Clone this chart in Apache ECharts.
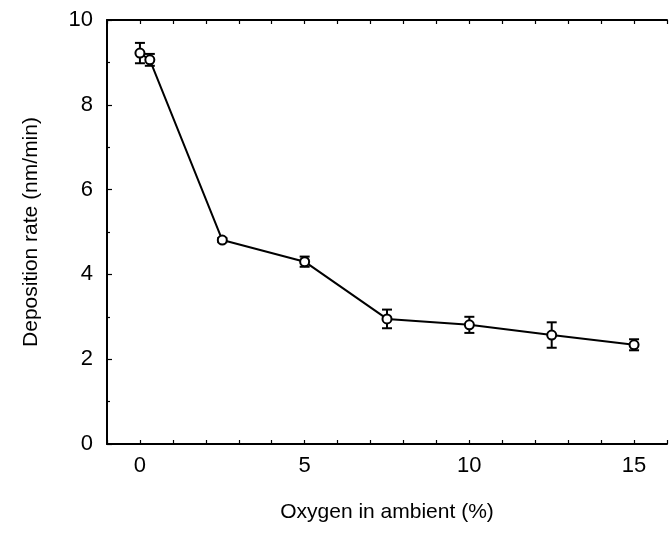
<!DOCTYPE html>
<html>
<head>
<meta charset="utf-8">
<script src="https://cdn.jsdelivr.net/npm/echarts@6/dist/echarts.min.js"></script>
<style>
html,body{margin:0;padding:0;background:#fff;}
#chart{width:670px;height:533px;}
</style>
</head>
<body>
<div id="chart"></div>
<script>
// Data
const oxygen = [0, 0.3, 2.5, 5, 7.5, 10, 12.5, 15];
const rate = [9.22, 9.06, 4.81, 4.30, 2.95, 2.81, 2.57, 2.34];
const rateErr = [0.24, 0.14, 0.05, 0.12, 0.22, 0.19, 0.30, 0.13];
const xTickLabels = [0, 5, 10, 15];
const yTickLabels = [0, 2, 4, 6, 8, 10];
const xTitle = 'Oxygen in ambient (%)';
const yTitle = 'Deposition rate (nm/min)';

const FONT = '"Liberation Sans", Arial, Helvetica, sans-serif';
const pts = oxygen.map((x, i) => [x, rate[i]]);
const errData = oxygen.map((x, i) => [x, rate[i] - rateErr[i], rate[i] + rateErr[i]]);

const chart = echarts.init(document.getElementById('chart'), null, {renderer: 'canvas'});
chart.setOption({
  animation: false,
  backgroundColor: '#ffffff',
  grid: {left: 107, top: 20, bottom: 89, width: 572, containLabel: false},
  xAxis: [{
    type: 'value', min: -1, max: 16, interval: 1,
    position: 'bottom',
    axisLine: {show: true, onZero: false, lineStyle: {color: '#000', width: 2}},
    axisTick: {show: true, inside: true, length: 4, lineStyle: {color: '#000', width: 1.2}},
    axisLabel: {
      show: true, margin: 11, color: '#000', fontFamily: FONT, fontSize: 22,
      formatter: v => (xTickLabels.indexOf(v) >= 0 ? String(v) : '')
    },
    splitLine: {show: false},
    name: xTitle, nameLocation: 'middle', nameGap: 58,
    nameTextStyle: {color: '#000', fontFamily: FONT, fontSize: 21}
  }, {
    type: 'value', min: -1, max: 16, interval: 1,
    position: 'top',
    axisLine: {show: true, onZero: false, lineStyle: {color: '#000', width: 2}},
    axisTick: {show: true, inside: true, length: 4, lineStyle: {color: '#000', width: 1.2}},
    axisLabel: {show: false},
    splitLine: {show: false}
  }],
  yAxis: [{
    type: 'value', min: 0, max: 10, interval: 2,
    axisLine: {show: true, onZero: false, lineStyle: {color: '#000', width: 2}},
    axisTick: {show: true, inside: true, length: 5, lineStyle: {color: '#000', width: 1.2}},
    minorTick: {show: true, splitNumber: 2, length: 3, lineStyle: {color: '#000', width: 1.2}},
    axisLabel: {
      show: true, margin: 14, color: '#000', fontFamily: FONT, fontSize: 22,
      formatter: v => (yTickLabels.indexOf(v) >= 0 ? String(v) : '')
    },
    splitLine: {show: false},
    name: yTitle, nameLocation: 'middle', nameGap: 65, nameRotate: 90,
    nameTextStyle: {color: '#000', fontFamily: FONT, fontSize: 21}
  }],
  series: [{
    type: 'custom',
    xAxisIndex: 0,
    data: errData,
    z: 3,
    renderItem: function (params, api) {
      const x = api.value(0);
      const lo = api.coord([x, api.value(1)]);
      const hi = api.coord([x, api.value(2)]);
      const hw = 5;
      const style = {stroke: '#000', lineWidth: 2, fill: null};
      return {
        type: 'group',
        children: [
          {type: 'line', shape: {x1: lo[0], y1: lo[1], x2: hi[0], y2: hi[1]}, style: style},
          {type: 'line', shape: {x1: lo[0] - hw, y1: lo[1], x2: lo[0] + hw, y2: lo[1]}, style: style},
          {type: 'line', shape: {x1: hi[0] - hw, y1: hi[1], x2: hi[0] + hw, y2: hi[1]}, style: style}
        ]
      };
    }
  }, {
    type: 'line',
    xAxisIndex: 0,
    data: pts,
    z: 4,
    symbol: 'circle',
    symbolSize: 9,
    showAllSymbol: true,
    itemStyle: {color: '#fff', borderColor: '#000', borderWidth: 2},
    lineStyle: {color: '#000', width: 2}
  }]
});
</script>
</body>
</html>
